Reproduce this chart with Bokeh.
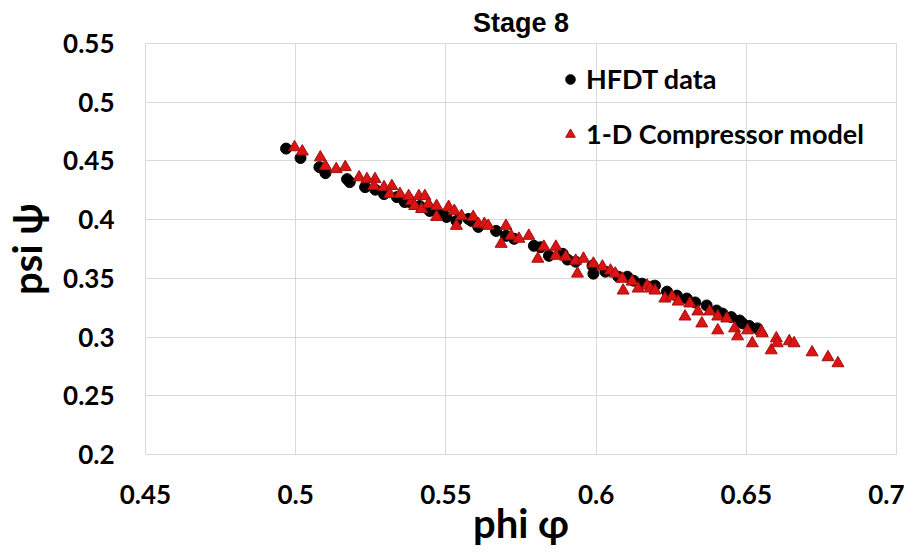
from bokeh.plotting import figure
from bokeh.models import Range1d, Legend, LegendItem, FixedTicker
from bokeh.embed import file_html
from bokeh.resources import INLINE

title_text = "Stage 8"
x_label = "phi \u03c6"
y_label = "psi \u03c8"
series_names = ["HFDT data", "1-D Compressor model"]

x_ticks = [0.45, 0.5, 0.55, 0.6, 0.65, 0.7]
x_tick_labels = ["0.45", "0.5", "0.55", "0.6", "0.65", "0.7"]
y_ticks = [0.2, 0.25, 0.3, 0.35, 0.4, 0.45, 0.5, 0.55]
y_tick_labels = ["0.2", "0.25", "0.3", "0.35", "0.4", "0.45", "0.5", "0.55"]

hfdt_phi = [0.4968, 0.5016, 0.5079, 0.5099, 0.5171, 0.518, 0.5231, 0.5265,
            0.5294, 0.5337, 0.5363, 0.538, 0.5413, 0.5446, 0.5479, 0.5502, 0.5535,
            0.5575, 0.5585, 0.5608, 0.5667, 0.57, 0.5727, 0.5793, 0.5815, 0.5843,
            0.5889, 0.5905, 0.5932, 0.5988, 0.5991, 0.6031, 0.6074, 0.6104, 0.6125,
            0.6153, 0.6186, 0.6196, 0.6236, 0.6269, 0.6302, 0.633, 0.6368, 0.6401,
            0.6421, 0.645, 0.6478, 0.6488, 0.651, 0.6537]
hfdt_psi = [0.4605, 0.4525, 0.4447, 0.4396, 0.4345, 0.432, 0.4277, 0.4255,
            0.4218, 0.4192, 0.415, 0.415, 0.4116, 0.4074, 0.4048, 0.4023, 0.3989,
            0.4006, 0.3989, 0.3938, 0.3904, 0.3862, 0.3837, 0.3777, 0.3765, 0.3692,
            0.3709, 0.366, 0.3642, 0.3608, 0.354, 0.3557, 0.3514, 0.3514, 0.348,
            0.3455, 0.343, 0.3438, 0.3387, 0.3353, 0.3328, 0.3295, 0.3269, 0.3226,
            0.32, 0.317, 0.3141, 0.3116, 0.3095, 0.3074]

model_phi = [0.4996, 0.5022, 0.5082, 0.5099, 0.5135, 0.5165, 0.5211, 0.5237, 0.5264,
             0.526, 0.5294, 0.532, 0.5313, 0.5347, 0.5386, 0.5396, 0.5376, 0.541,
             0.543, 0.5419, 0.5442, 0.5469, 0.5469, 0.5509, 0.5528, 0.5535, 0.5552,
             0.5591, 0.5608, 0.5628, 0.5641, 0.57, 0.5684, 0.5717, 0.5743, 0.5776,
             0.5806, 0.5826, 0.5866, 0.5866, 0.5899, 0.5938, 0.5932, 0.5958, 0.5991,
             0.6021, 0.6048, 0.6064, 0.6087, 0.609, 0.612, 0.614, 0.617, 0.618,
             0.6196, 0.6229, 0.6253, 0.6273, 0.6296, 0.6312, 0.6339, 0.6352, 0.6378,
             0.6405, 0.6405, 0.6435, 0.6461, 0.6471, 0.6504, 0.652, 0.655, 0.6553,
             0.66, 0.6583, 0.6603, 0.6643, 0.6659, 0.6719, 0.6772, 0.6805]
model_psi = [0.4616, 0.458, 0.453, 0.4455, 0.443, 0.4447, 0.436, 0.4345, 0.4345,
             0.4286, 0.4277, 0.4286, 0.4218, 0.4218, 0.4158, 0.4116, 0.420, 0.420,
             0.420, 0.409, 0.4133, 0.4116, 0.4023, 0.4108, 0.4074, 0.3947, 0.4031,
             0.4023, 0.3964, 0.3964, 0.3947, 0.3947, 0.3794, 0.3862, 0.3837, 0.3862,
             0.3667, 0.3769, 0.3769, 0.3692, 0.3684, 0.354, 0.365, 0.3667, 0.3625,
             0.36, 0.3566, 0.354, 0.3497, 0.3396, 0.3472, 0.3413, 0.3438, 0.3413,
             0.3396, 0.3328, 0.3345, 0.3302, 0.3175, 0.3286, 0.3218, 0.3116, 0.3218,
             0.3175, 0.3057, 0.3158, 0.3074, 0.3006, 0.3057, 0.2947, 0.3049, 0.3032,
             0.2989, 0.2887, 0.2947, 0.2964, 0.2947, 0.287, 0.2828, 0.2777]

FONT = "Lato"
GRID = "#d9d9d9"

p = figure(width=904, height=551,
           x_range=Range1d(x_ticks[0], x_ticks[-1]),
           y_range=Range1d(y_ticks[0], y_ticks[-1]),
           output_backend="svg", toolbar_location=None,
           min_border_left=141, min_border_right=8,
           min_border_top=43, min_border_bottom=97)

p.title.text = title_text
p.title.align = "center"
p.title.vertical_align = "top"
p.title.text_font = "Liberation Sans"
p.title.text_font_style = "bold"
p.title.text_font_size = "27px"
p.title.text_color = "black"
p.title.standoff = 7

p.outline_line_color = GRID
p.xaxis.ticker = FixedTicker(ticks=x_ticks)
p.yaxis.ticker = FixedTicker(ticks=y_ticks)
p.xaxis.major_label_overrides = {t: s for t, s in zip(x_ticks, x_tick_labels)}
p.yaxis.major_label_overrides = {t: s for t, s in zip(y_ticks, y_tick_labels)}
p.xgrid.ticker = FixedTicker(ticks=x_ticks)
p.ygrid.ticker = FixedTicker(ticks=y_ticks)
p.grid.grid_line_color = GRID
p.grid.grid_line_width = 1

for ax in (p.xaxis, p.yaxis):
    ax.axis_line_color = None
    ax.major_tick_line_color = None
    ax.minor_tick_line_color = None
    ax.major_tick_out = 0
    ax.major_tick_in = 0
    ax.major_label_text_font = FONT
    ax.major_label_text_font_style = "bold"
    ax.major_label_text_font_size = "26px"
    ax.major_label_text_color = "black"
    ax.axis_label_text_font = FONT
    ax.axis_label_text_font_style = "bold"
    ax.axis_label_text_color = "black"

p.xaxis.axis_label = x_label
p.yaxis.axis_label = y_label
p.xaxis.axis_label_text_font_size = "40px"
p.yaxis.axis_label_text_font_size = "40px"
p.xaxis.major_label_standoff = 30
p.yaxis.major_label_standoff = 31
p.xaxis.axis_label_standoff = -8
p.yaxis.axis_label_standoff = 9

r1 = p.scatter(hfdt_phi, hfdt_psi, marker="circle", size=11,
               fill_color="black", line_color="black")
r2 = p.scatter(model_phi, model_psi, marker="triangle", size=12,
               fill_color="#dc1414", line_color="#a01010")

legend = Legend(items=[LegendItem(label=series_names[0], renderers=[r1]),
                       LegendItem(label=series_names[1], renderers=[r2])],
                location=(413, 304))
legend.background_fill_alpha = 0
legend.border_line_color = None
legend.padding = 0
legend.margin = 0
legend.spacing = 22
legend.glyph_width = 24
legend.glyph_height = 30
legend.label_height = 30
legend.label_standoff = 4
legend.label_text_font = FONT
legend.label_text_font_style = "bold"
legend.label_text_font_size = "27px"
legend.label_text_color = "black"
p.add_layout(legend)

open("out.html", "w").write(file_html(p, INLINE))
